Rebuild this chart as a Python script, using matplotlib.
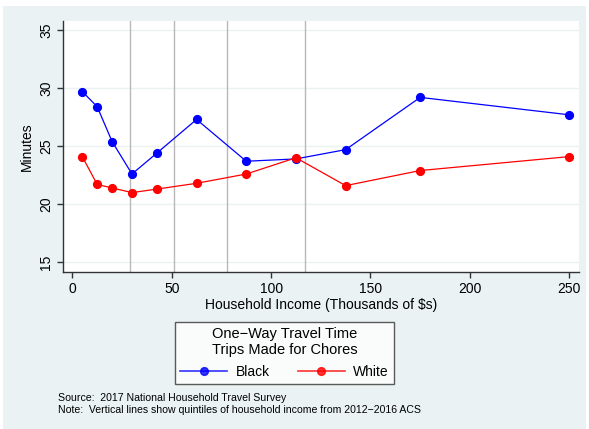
import matplotlib.pyplot as plt
from matplotlib.patches import Rectangle
from matplotlib.lines import Line2D

# data
income = [5, 12.5, 20, 30, 42.5, 62.5, 87.5, 112.5, 137.5, 175, 250]
black = [29.7, 28.4, 25.4, 22.6, 24.4, 27.3, 23.7, 23.9, 24.7, 29.2, 27.7]
white = [24.1, 21.7, 21.4, 21.0, 21.3, 21.8, 22.6, 24.0, 21.6, 22.9, 24.1]
quintiles = [29.2, 51.2, 78.0, 117.2]
xticks = [0, 50, 100, 150, 200, 250]
yticks = [15, 20, 25, 30, 35]

plt.rcParams['font.family'] = ['Liberation Sans', 'DejaVu Sans']
bg = '#eaf2f3'

fig = plt.figure(figsize=(5.89, 4.29), dpi=100, facecolor='white')
fig.patches.append(Rectangle((3 / 589, 0), 583 / 589, 423 / 429,
                             transform=fig.transFigure, facecolor=bg,
                             edgecolor='none', zorder=-10))

ax = fig.add_axes([63 / 589, 157 / 429, 516 / 589, 251 / 429])
ax.set_facecolor('white')

for q in quintiles:
    ax.axvline(q, color='#b8b8b8', lw=1, zorder=1)
for y in yticks:
    ax.axhline(y, color=bg, lw=1, zorder=0.5)

ax.plot(income, black, color='#0000ff', lw=0.9, marker='o', ms=5.6,
        label='Black', zorder=3)
ax.plot(income, white, color='#ff0000', lw=0.9, marker='o', ms=5.6,
        label='White', zorder=3)

ax.set_xlim(-4.7, 254.9)
ax.set_ylim(14.16, 35.78)
ax.set_xticks(xticks)
ax.set_yticks(yticks)
ax.set_yticklabels([str(v) for v in yticks], rotation=90, va='center')
ax.tick_params(labelsize=10, length=4, width=1, color='#333333', pad=3)

for s in ['top', 'right']:
    ax.spines[s].set_visible(False)
for s in ['left', 'bottom']:
    ax.spines[s].set_color('#333333')
    ax.spines[s].set_linewidth(1)

ax.set_xlabel('Household Income (Thousands of $s)', fontsize=10, labelpad=2)
ax.set_ylabel('Minutes', fontsize=10, labelpad=4)

handles = [Line2D([], [], color='#0000ff', lw=1.2, marker='o', ms=5.6, alpha=0.8),
           Line2D([], [], color='#ff0000', lw=1.2, marker='o', ms=5.6, alpha=0.8)]
leg = fig.legend(handles, ['Black', 'White'], ncol=2,
                 title='One\u2212Way Travel Time\nTrips Made for Chores',
                 loc='center', bbox_to_anchor=(284.5 / 589, 1 - 353 / 429),
                 fontsize=10, title_fontsize=10.5, frameon=True, fancybox=False,
                 handlelength=3.4, columnspacing=2.0, borderpad=0.35,
                 handletextpad=0.6, labelspacing=0.55)
leg.get_frame().set_edgecolor('#333333')
leg.get_frame().set_linewidth(1)
leg.get_title().set_multialignment('center')

fig.text(58 / 589, 1 - 398 / 429, 'Source:  2017 National Household Travel Survey',
         fontsize=7.6, va='center')
fig.text(58 / 589, 1 - 410 / 429,
         'Note:  Vertical lines show quintiles of household income from 2012\u22122016 ACS',
         fontsize=7.6, va='center')

fig.savefig('out.png', dpi=100, facecolor='white')
